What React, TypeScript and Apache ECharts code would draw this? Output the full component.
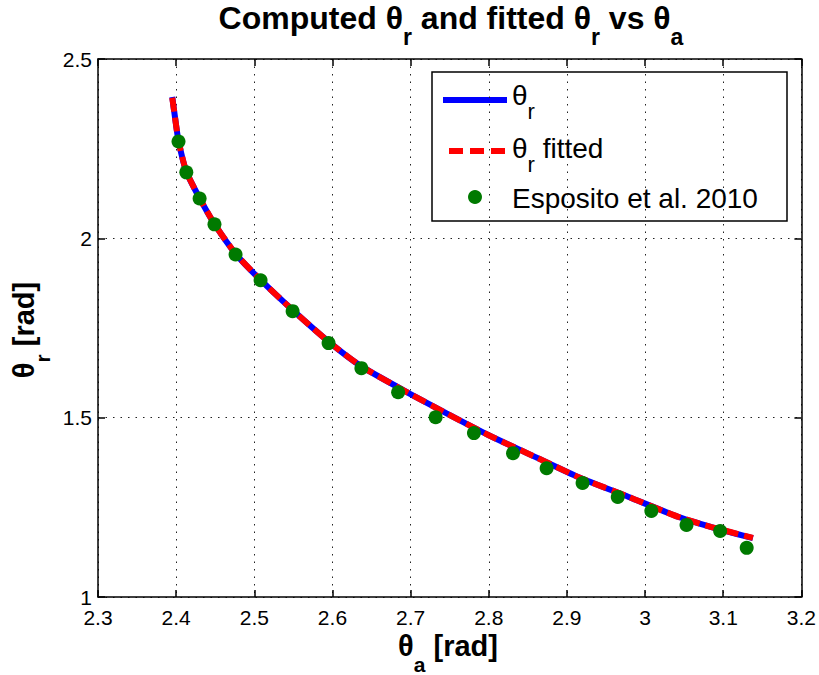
import React, { useEffect, useRef } from 'react';
import * as echarts from 'echarts';

// Computed theta_r curve (theta_a, theta_r) [rad]
const computedThetaA = [2.395, 2.399, 2.403, 2.413, 2.430, 2.449, 2.476, 2.508, 2.549, 2.595, 2.637, 2.698, 2.746, 2.800, 2.860, 2.915, 2.979, 3.043, 3.085, 3.138];
const computedThetaR = [2.394, 2.330, 2.272, 2.186, 2.112, 2.040, 1.957, 1.884, 1.800, 1.712, 1.643, 1.568, 1.512, 1.451, 1.390, 1.334, 1.279, 1.223, 1.195, 1.164];

// Fitted theta_r curve
const fittedThetaA = [2.395, 2.399, 2.403, 2.413, 2.430, 2.449, 2.476, 2.508, 2.549, 2.595, 2.637, 2.698, 2.746, 2.800, 2.860, 2.915, 2.979, 3.043, 3.085, 3.138];
const fittedThetaR = [2.392, 2.330, 2.271, 2.186, 2.112, 2.040, 1.957, 1.884, 1.800, 1.712, 1.643, 1.568, 1.512, 1.451, 1.390, 1.334, 1.279, 1.223, 1.195, 1.165];

// Esposito et al. 2010 points
const espositoThetaA = [2.403, 2.413, 2.430, 2.449, 2.476, 2.508, 2.549, 2.595, 2.637, 2.684, 2.732, 2.781, 2.831, 2.874, 2.920, 2.965, 3.008, 3.053, 3.096, 3.130];
const espositoThetaR = [2.270, 2.184, 2.111, 2.039, 1.955, 1.883, 1.797, 1.708, 1.638, 1.571, 1.501, 1.457, 1.401, 1.359, 1.318, 1.279, 1.240, 1.201, 1.184, 1.137];

const xMin = 2.3, xMax = 3.2, xStep = 0.1;
const yMin = 1, yMax = 2.5, yStep = 0.5;

const FONT = '"Liberation Sans", Arial, Helvetica, sans-serif';

const zip = (a: number[], b: number[]) => a.map((v, i) => [v, b[i]]);

export default function App() {
  const ref = useRef<HTMLDivElement>(null);
  useEffect(() => {
    document.body.style.margin = '0';
    const chart = echarts.init(ref.current!, null, { renderer: 'svg' });
    const axisLine = { show: true, onZero: false, lineStyle: { color: '#000', width: 1.5 } };
    const axisTick = { show: true, inside: true, length: 7, lineStyle: { color: '#000', width: 1.5 } };
    const splitLine = { show: true, lineStyle: { color: '#222', width: 1, type: [1.5, 6] as any } };
    const labelStyle = { color: '#000', fontSize: 21, fontFamily: FONT };
    const fmt = (v: number) => String(+v.toFixed(1));

    const titleRich = {
      m: { fontSize: 32, fontWeight: 'bold', fontFamily: FONT, lineHeight: 44, color: '#000' },
      s: { fontSize: 23, fontWeight: 'bold', fontFamily: FONT, lineHeight: 44, color: '#000', padding: [38, 0, 0, 0] },
    };
    const labRich = {
      m: { fontSize: 29, fontWeight: 'bold', fontFamily: FONT, lineHeight: 40, color: '#000' },
      s: { fontSize: 21, fontWeight: 'bold', fontFamily: FONT, lineHeight: 40, color: '#000', padding: [36, 0, 0, 0] },
    };
    const legRich = {
      m: { fontSize: 28, fontFamily: FONT, lineHeight: 40, color: '#000' },
      s: { fontSize: 22, fontFamily: FONT, lineHeight: 40, color: '#000', padding: [32, 0, 0, 0] },
    };

    chart.setOption({
      animation: false,
      backgroundColor: '#fff',
      grid: { left: 98, right: 16, top: 59, bottom: 78, containLabel: false },
      xAxis: [
        {
          type: 'value', min: xMin, max: xMax, interval: xStep, position: 'bottom',
          axisLine, axisTick, splitLine,
          axisLabel: { ...labelStyle, margin: 10, formatter: fmt },
        },
        {
          type: 'value', min: xMin, max: xMax, interval: xStep, position: 'top',
          axisLine, axisTick, splitLine: { show: false }, axisLabel: { show: false },
        },
      ],
      yAxis: [
        {
          type: 'value', min: yMin, max: yMax, interval: yStep, position: 'left',
          axisLine, axisTick, splitLine,
          axisLabel: { ...labelStyle, margin: 6, formatter: fmt },
        },
        {
          type: 'value', min: yMin, max: yMax, interval: yStep, position: 'right',
          axisLine, axisTick, splitLine: { show: false }, axisLabel: { show: false },
        },
      ],
      series: [
        {
          name: 'θr', type: 'line', data: zip(computedThetaA, computedThetaR),
          showSymbol: false, symbol: 'none', z: 2, smooth: 0.2,
          lineStyle: { color: '#0000ff', width: 6 },
        },
        {
          name: 'θr fitted', type: 'line', data: zip(fittedThetaA, fittedThetaR),
          showSymbol: false, symbol: 'none', z: 3, smooth: 0.2,
          lineStyle: { color: '#ff0000', width: 6, type: [14, 6] as any },
        },
        {
          name: 'Esposito et al. 2010', type: 'scatter', data: zip(espositoThetaA, espositoThetaR),
          symbol: 'circle', symbolSize: 14, z: 4,
          itemStyle: { color: '#007a00', opacity: 1 },
        },
      ],
      graphic: [
        {
          type: 'text', x: 451, y: 18, z: 10,
          style: { text: '{m|Computed θ}{s|r}{m| and fitted θ}{s|r}{m| vs θ}{s|a}', rich: titleRich, align: 'center', verticalAlign: 'middle' },
        },
        {
          type: 'text', x: 448, y: 646, z: 10,
          style: { text: '{m|θ}{s|a}{m| [rad]}', rich: labRich, align: 'center', verticalAlign: 'middle' },
        },
        {
          type: 'text', x: 24, y: 330, rotation: Math.PI / 2, z: 10,
          style: { text: '{m|θ}{s|r}{m| [rad]}', rich: labRich, align: 'center', verticalAlign: 'middle' },
        },
        {
          type: 'group', z: 20,
          children: [
            { type: 'rect', shape: { x: 432, y: 72, width: 355, height: 149 }, style: { fill: '#fff', stroke: '#000', lineWidth: 1.5 } },
            { type: 'line', shape: { x1: 443, y1: 100, x2: 507, y2: 100 }, style: { stroke: '#0000ff', lineWidth: 6 } },
            { type: 'line', shape: { x1: 449, y1: 151, x2: 505, y2: 151 }, style: { stroke: '#ff0000', lineWidth: 6, lineDash: [14, 7] } },
            { type: 'circle', shape: { cx: 475, cy: 197, r: 7 }, style: { fill: '#007a00' } },
            { type: 'text', x: 512, y: 95, style: { text: '{m|θ}{s|r}', rich: legRich, align: 'left', verticalAlign: 'middle' } },
            { type: 'text', x: 512, y: 148, style: { text: '{m|θ}{s|r}{m| fitted}', rich: legRich, align: 'left', verticalAlign: 'middle' } },
            { type: 'text', x: 512, y: 198, style: { text: '{m|Esposito et al. 2010}', rich: legRich, align: 'left', verticalAlign: 'middle' } },
          ],
        },
      ],
    });
    return () => chart.dispose();
  }, []);
  return <div ref={ref} style={{ width: 819, height: 675 }} />;
}
